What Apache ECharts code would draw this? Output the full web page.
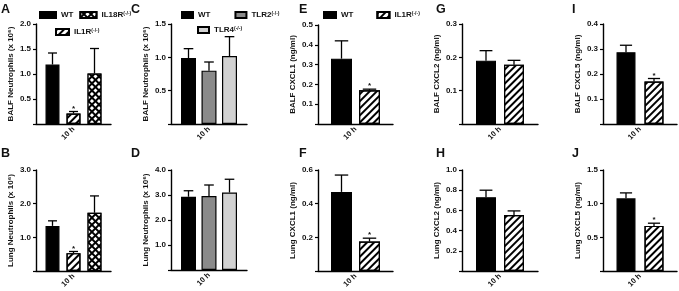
<!DOCTYPE html>
<html>
<head>
<meta charset="utf-8">
<script src="https://cdn.jsdelivr.net/npm/echarts@6/dist/echarts.min.js"></script>
<style>
html, body { margin: 0; padding: 0; background: #fff; }
#chart { width: 679px; height: 291px; }
</style>
</head>
<body>
<div id="chart"></div>
<script>
const timePoint = ['10 h'];

// neutrophils (x 10^6): WT, IL1R-/-, IL18R-/-
const balfNeutroIL = [1.19, 0.21, 1.01];
const balfNeutroILErr = [0.23, 0.04, 0.50];
const lungNeutroIL = [1.34, 0.53, 1.73];
const lungNeutroILErr = [0.15, 0.05, 0.50];

// neutrophils (x 10^6): WT, TLR2-/-, TLR4-/-
const balfNeutroTLR = [0.99, 0.80, 1.02];
const balfNeutroTLRErr = [0.14, 0.13, 0.29];
const lungNeutroTLR = [2.93, 2.96, 3.10];
const lungNeutroTLRErr = [0.24, 0.44, 0.53];

// chemokines (ng/ml): WT, IL1R-/-
const balfCxcl1 = [0.33, 0.17];
const balfCxcl1Err = [0.09, 0.006];
const lungCxcl1 = [0.47, 0.175];
const lungCxcl1Err = [0.10, 0.02];
const balfCxcl2 = [0.19, 0.178];
const balfCxcl2Err = [0.03, 0.013];
const lungCxcl2 = [0.73, 0.555];
const lungCxcl2Err = [0.07, 0.04];
const balfCxcl5 = [0.287, 0.17];
const balfCxcl5Err = [0.028, 0.012];
const lungCxcl5 = [1.08, 0.67];
const lungCxcl5Err = [0.08, 0.04];

// significance marks (*)
const sigIL = [false, true, false];
const sigTLR = [false, false, false];
const sigCxcl = [false, true];
const sigNone = [false, false];

const groupsIL = ['WT', 'IL1R', 'IL18R'];
const groupsTLR = ['WT', 'TLR2', 'TLR4'];
const groupsCxcl = ['WT', 'IL1R'];

const FONT = 'Liberation Sans';
const INK = '#111';

const styles = {
  WT: { color: '#000', borderColor: '#000', borderWidth: 1.2 },
  TLR2: { color: '#8a8a8a', borderColor: '#000', borderWidth: 1.2 },
  TLR4: { color: '#d2d2d2', borderColor: '#000', borderWidth: 1.2 },
  IL1R: {
    color: '#fff', borderColor: '#000', borderWidth: 1.2,
    decal: { symbol: 'rect', symbolSize: 1, color: '#000', dashArrayX: [1, 0], dashArrayY: [2, 2.6], rotation: -Math.PI / 4 }
  },
  IL18R: {
    color: '#000', borderColor: '#000', borderWidth: 1.2,
    decal: { symbol: 'rect', symbolSize: 1, color: '#fff', dashArrayX: [3, 1.6], dashArrayY: [3, 1.6], rotation: Math.PI / 4 }
  }
};

const panels = [
  { letter: 'A', name: 'BALF Neutrophils (x 10⁶)', groups: groupsIL, means: balfNeutroIL, errs: balfNeutroILErr, sig: sigIL,
    max: 2.0, step: 0.5, left: 36, top: 24, width: 75, height: 100, bw: 14, gap: 7 },
  { letter: 'B', name: 'Lung Neutrophils (x 10⁶)', groups: groupsIL, means: lungNeutroIL, errs: lungNeutroILErr, sig: sigIL,
    max: 3.0, step: 1.0, left: 36, top: 170, width: 75, height: 101, bw: 14, gap: 7 },
  { letter: 'C', name: 'BALF Neutrophils (x 10⁶)', groups: groupsTLR, means: balfNeutroTLR, errs: balfNeutroTLRErr, sig: sigTLR,
    max: 1.5, step: 0.5, left: 171, top: 24, width: 76, height: 100, bw: 15, gap: 5.5 },
  { letter: 'D', name: 'Lung Neutrophils (x 10⁶)', groups: groupsTLR, means: lungNeutroTLR, errs: lungNeutroTLRErr, sig: sigTLR,
    max: 4.0, step: 1.0, left: 171, top: 170, width: 76, height: 100, bw: 15, gap: 5.5 },
  { letter: 'E', name: 'BALF CXCL1 (ng/ml)', groups: groupsCxcl, means: balfCxcl1, errs: balfCxcl1Err, sig: sigCxcl,
    max: 0.5, step: 0.1, left: 318, top: 25, width: 75, height: 99, bw: 21, gap: 7 },
  { letter: 'F', name: 'Lung CXCL1 (ng/ml)', groups: groupsCxcl, means: lungCxcl1, errs: lungCxcl1Err, sig: sigCxcl,
    max: 0.6, step: 0.2, left: 318, top: 170, width: 75, height: 101, bw: 21, gap: 7 },
  { letter: 'G', name: 'BALF CXCL2 (ng/ml)', groups: groupsCxcl, means: balfCxcl2, errs: balfCxcl2Err, sig: sigNone,
    max: 0.3, step: 0.1, left: 462, top: 24, width: 76, height: 100, bw: 20, gap: 8 },
  { letter: 'H', name: 'Lung CXCL2 (ng/ml)', groups: groupsCxcl, means: lungCxcl2, errs: lungCxcl2Err, sig: sigNone,
    max: 1.0, step: 0.2, left: 462, top: 170, width: 76, height: 101, bw: 20, gap: 8 },
  { letter: 'I', name: 'BALF CXCL5 (ng/ml)', groups: groupsCxcl, means: balfCxcl5, errs: balfCxcl5Err, sig: sigCxcl,
    max: 0.4, step: 0.1, left: 603, top: 24, width: 74, height: 100, bw: 19, gap: 9 },
  { letter: 'J', name: 'Lung CXCL5 (ng/ml)', groups: groupsCxcl, means: lungCxcl5, errs: lungCxcl5Err, sig: sigCxcl,
    max: 1.5, step: 0.5, left: 603, top: 170, width: 74, height: 101, bw: 19, gap: 9 }
];

const letterPos = { A: [1, 3], B: [1, 147], C: [131, 3], D: [131, 147], E: [299, 3], F: [299, 147],
                    G: [436, 3], H: [436, 147], I: [572, 3], J: [572, 147] };

function errorSeries(p, gi) {
  const n = p.means.length;
  return {
    type: 'custom', xAxisIndex: gi, yAxisIndex: gi, z: 5, silent: true,
    data: p.means.map((m, i) => [0, m, p.errs[i], p.sig[i] ? 1 : 0, i]),
    renderItem(params, api) {
      const i = api.value(4);
      const base = api.coord([0, api.value(1)]);
      const top = api.coord([0, api.value(1) + api.value(2)]);
      const x = base[0] + (i - (n - 1) / 2) * (p.bw + p.gap);
      const half = Math.max(4, p.bw * 0.32);
      const st = { stroke: '#000', lineWidth: 1.3 };
      const kids = [
        { type: 'line', shape: { x1: x, y1: base[1], x2: x, y2: top[1] }, style: st },
        { type: 'line', shape: { x1: x - half, y1: top[1], x2: x + half, y2: top[1] }, style: st }
      ];
      if (api.value(3)) {
        kids.push({ type: 'text', x: x, y: top[1] - 3,
          style: { text: '*', textAlign: 'center', textVerticalAlign: 'middle',
                   font: 'bold 8px ' + FONT, fill: INK } });
      }
      return { type: 'group', children: kids };
    }
  };
}

const grid = [], xAxis = [], yAxis = [], series = [], title = [];
panels.forEach((p, gi) => {
  grid.push({ left: p.left, top: p.top, width: p.width, height: p.height });
  xAxis.push({
    type: 'category', gridIndex: gi, data: timePoint,
    axisLine: { lineStyle: { color: '#000', width: 1.4 } },
    axisTick: { alignWithLabel: true, length: 4, lineStyle: { color: '#000', width: 1.2 } },
    axisLabel: { rotate: 45, margin: 4, color: INK, fontFamily: FONT, fontWeight: 'bold', fontSize: 7.5 }
  });
  yAxis.push({
    type: 'value', gridIndex: gi, min: 0, max: p.max, interval: p.step,
    name: p.name, nameLocation: 'middle', nameGap: 21,
    nameTextStyle: { color: INK, fontFamily: FONT, fontWeight: 'bold', fontSize: 8 },
    axisLine: { show: true, lineStyle: { color: '#000', width: 1.4 } },
    axisTick: { show: true, length: 3, lineStyle: { color: '#000', width: 1.2 } },
    splitLine: { show: false },
    axisLabel: { margin: 5, color: INK, fontFamily: FONT, fontWeight: 'bold', fontSize: 8,
                 formatter: v => v === 0 ? '' : v.toFixed(1) }
  });
  p.groups.forEach((g, i) => {
    series.push({
      type: 'bar', name: g, xAxisIndex: gi, yAxisIndex: gi,
      data: [p.means[i]], barWidth: p.bw, barGap: (p.gap / p.bw * 100) + '%',
      itemStyle: styles[g], silent: true
    });
  });
  series.push(errorSeries(p, gi));
  const lp = letterPos[p.letter];
  title.push({ text: p.letter, left: lp[0], top: lp[1], padding: 0,
    textStyle: { color: INK, fontFamily: FONT, fontWeight: 'bold', fontSize: 12.5 } });
});

const legendText = {
  color: INK, fontFamily: FONT, fontWeight: 'bold', fontSize: 8,
  rich: { s: { fontSize: 5, fontFamily: FONT, fontWeight: 'bold', color: INK, verticalAlign: 'top' } }
};
const legendFmt = name => name === 'WT' ? 'WT' : name + '{s|(-/-)}';
function legendBox(names, left, top, w, gap) {
  return { data: names, left: left, top: top, padding: 0, icon: 'rect', itemWidth: w, itemHeight: 6,
           itemGap: gap, selectedMode: false, textStyle: legendText, formatter: legendFmt };
}

const chart = echarts.init(document.getElementById('chart'), null, { renderer: 'canvas' });
chart.setOption({
  animation: false,
  backgroundColor: '#fff',
  title: title,
  legend: [
    legendBox(['WT', 'IL18R'], 39, 11, 16, 6),
    legendBox(['IL1R'], 55, 28, 13, 6),
    legendBox(['WT', 'TLR2'], 181, 11, 11, 24),
    legendBox(['TLR4'], 197, 26, 11, 6),
    legendBox(['WT', 'IL1R'], 323, 11, 12, 23)
  ],
  grid: grid,
  xAxis: xAxis,
  yAxis: yAxis,
  series: series
});
</script>
</body>
</html>
